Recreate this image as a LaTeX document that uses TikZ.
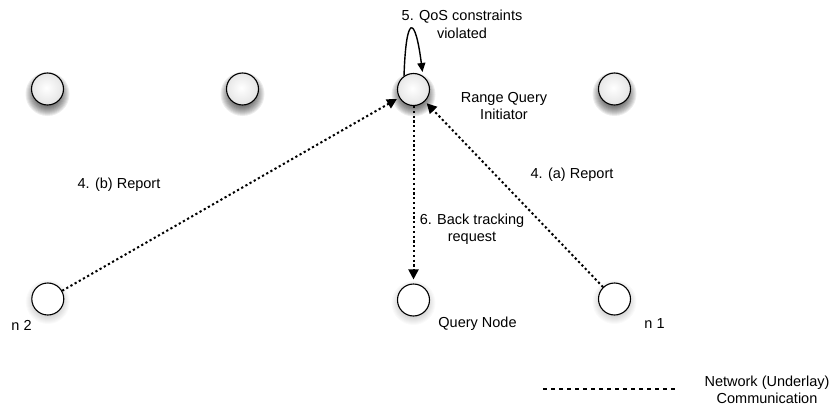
\documentclass[tikz,border=0pt]{standalone}
\usepackage{fontspec}
\setmainfont{Liberation Sans}
\usetikzlibrary{arrows.meta}
\pgfdeclarelayer{bg}
\pgfsetlayers{bg,main}
% soft grey sphere fill for the overlay peers
\pgfdeclareradialshading{ballshade}{\pgfpoint{-2bp}{2bp}}{%
  color(0bp)=(white); color(20bp)=(black!8); color(50bp)=(black!26)}
\begin{document}
\begin{tikzpicture}[x=1pt,y=-1pt,
  every node/.style={font=\fontsize{14.5}{17.5}\selectfont},
  ball/.style={circle, draw=black, line width=1.1pt, minimum size=32pt,
    inner sep=0pt, shading=ballshade},
  plainball/.style={circle, draw=black, line width=1.1pt, minimum size=32pt,
    inner sep=0pt, fill=white},
  lbl/.style={align=center, inner sep=0pt},
  net/.style={line width=2pt, dash pattern=on 2.2pt off 2.6pt},
  nettip/.style={-{Triangle[length=10pt,width=10pt]}},
  looptip/.style={line width=1.4pt, -{Triangle[length=9pt,width=8pt]}},
  legendline/.style={line width=2pt, dash pattern=on 4pt off 4pt}]

\useasboundingbox (0,0) rectangle (832,412);

% node positions
\coordinate (pt1) at (47.5,89);
\coordinate (pt2) at (242.5,89);
\coordinate (pini) at (413.5,89.5);
\coordinate (pt4) at (614.5,89);
\coordinate (pn2) at (47.8,299);
\coordinate (pqn) at (413.5,300);
\coordinate (pn1) at (614.5,299);

% blurred drop shadows under the peers
\begin{pgfonlayer}{bg}
  \foreach \p in {pt1,pt2,pini,pt4}{
    \foreach \r in {13,14,...,22}{
      \fill[black, opacity=0.07] ([yshift=-5pt]\p) circle (\r pt);
    }
  }
  \foreach \p in {pn2,pqn,pn1}{
    \foreach \r in {14,15,...,22}{
      \fill[black, opacity=0.018] ([yshift=-3pt]\p) circle (\r pt);
    }
  }
\end{pgfonlayer}

% peers
\node[ball] (t1) at (pt1) {};
\node[ball] (t2) at (pt2) {};
\node[ball] (ini) at (pini) {};
\node[ball] (t4) at (pt4) {};
\node[plainball] (n2) at (pn2) {};
\node[plainball] (qn) at (pqn) {};
\node[plainball] (n1) at (pn1) {};

% labels
\node[lbl] (lqos) at (462,24.5) {5. QoS constraints\\violated};
\node[lbl] (lini) at (504,106) {Range Query\\Initiator};
\node[lbl] (lb) at (119,185) {4. (b) Report};
\node[lbl] (la) at (572,175) {4. (a) Report};
\node[lbl] (lbt) at (472,229) {6. Back tracking\\request};
\node[lbl] (ln2) at (21.5,325) {n 2};
\node[lbl] (lqn) at (477.5,324) {Query Node};
\node[lbl] (ln1) at (654.5,324) {n 1};
\node[lbl] (lleg) at (767,390) {Network (Underlay)\\Communication};

% messages
\draw[net, nettip, shorten >=2.5pt] (n2) -- (ini);
\draw[net, nettip, shorten >=2.5pt] (n1) -- (ini);
\draw[net, nettip, shorten >=4pt] (ini) -- (qn);
\draw[looptip, shorten >=4pt] (ini.125) .. controls (406,14) and (415,14) .. (ini.55);

% legend
\coordinate (lga) at (543,389);
\coordinate (lgb) at (675,389);
\draw[legendline] (lga) -- (lgb);
\end{tikzpicture}
\end{document}
